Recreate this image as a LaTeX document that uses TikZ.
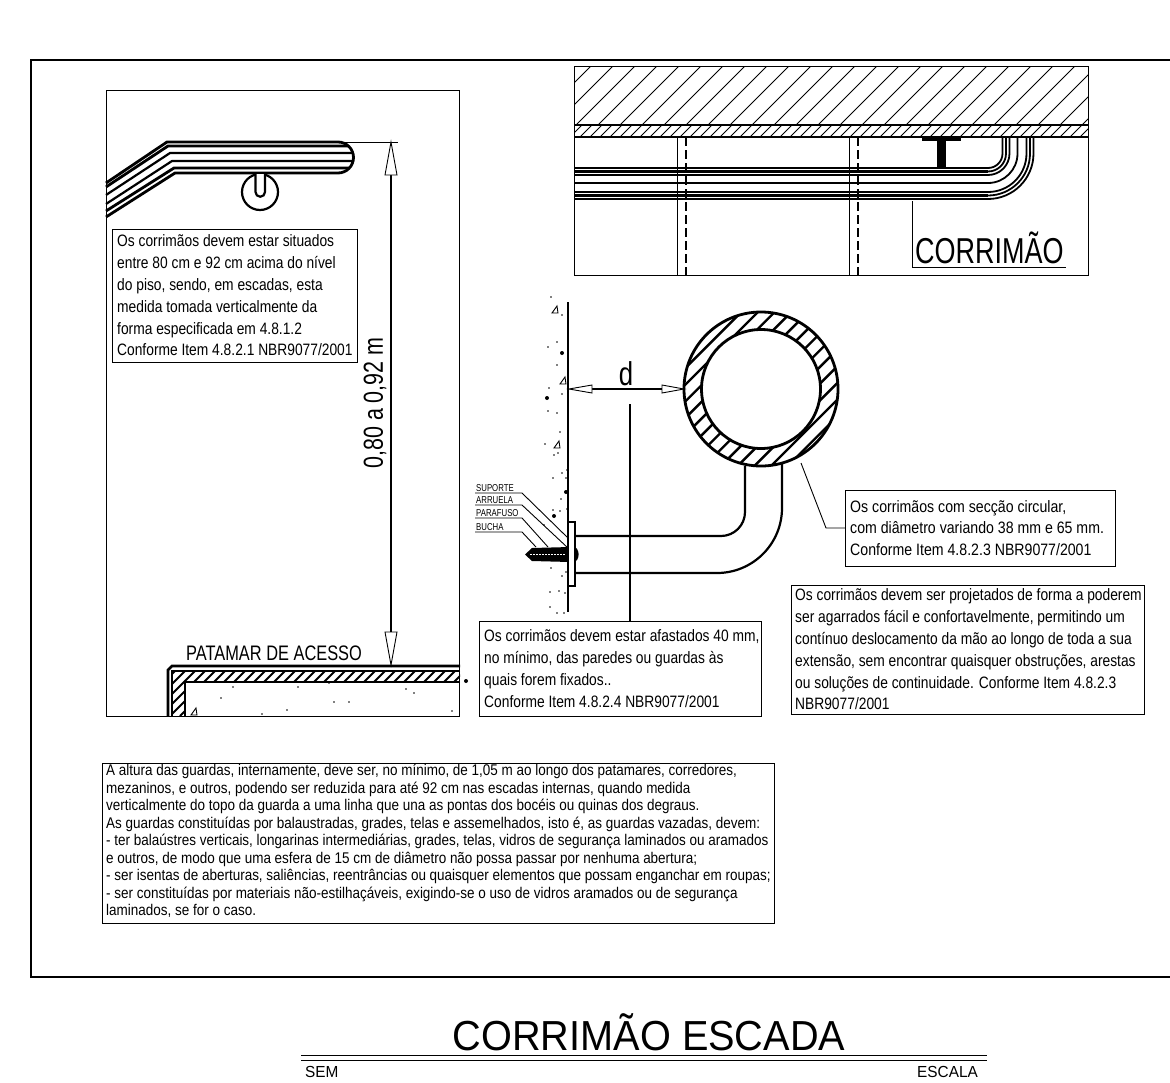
\documentclass[tikz,border=0pt]{standalone}
\usepackage{fontspec}
\setmainfont{Liberation Sans}
\newfontfamily\nar[FakeStretch=0.78]{Liberation Sans}
\newfontfamily\narb[FakeStretch=0.836]{Liberation Sans}
\newfontfamily\narc[FakeStretch=0.75]{Liberation Sans}
\newfontfamily\titl[FakeStretch=0.945]{Liberation Sans}
\newfontfamily\smallt[FakeStretch=0.96]{Liberation Sans}
\tikzset{
  thinl/.style={line width=0.9pt},
  med/.style={line width=1.2pt},
  thick2/.style={line width=2.2pt},
  heavy/.style={line width=2.8pt},
  framebox/.style={draw,line width=1pt,anchor=north west,inner sep=0pt,outer sep=0pt},
  boxtext/.style={anchor=west,align=left,inner sep=0pt,font=\narb\fontsize{16.5}{21.8}\selectfont},
  smalllabel/.style={anchor=base west,inner sep=0pt,font=\nar\fontsize{10}{12}\selectfont},
  headarrow/.style={draw,line width=0.9pt,fill=white},
}
\newcommand{\speck}[2]{\fill (#1,#2) circle[radius=0.8pt];}
\newcommand{\blob}[2]{\fill (#1,#2) circle[radius=2pt];}
\newcommand{\tri}[2]{\draw[line width=0.9pt] (#1-3,#2+3) -- (#1+3,#2+3) -- (#1+2,#2-4) -- cycle;}
\begin{document}
\begin{tikzpicture}[x=1pt,y=-1pt]
\useasboundingbox (0,0) rectangle (1170,1082);
\begin{scope}
\clip (0,0) rectangle (1170,1082);
% outer frame
\draw[heavy] (1175,60) -- (31,60) -- (31,977) -- (1175,977);

% ---------- left panel ----------
\node[framebox,minimum width=353pt,minimum height=626pt] (leftp) at (106,90) {};
% handrail
\draw[heavy] (106,183) -- (167,142) -- (338,142) arc[start angle=90,end angle=-90,radius=15.5pt] -- (175,173) -- (106,217);
\draw[heavy] (106,187) -- (168,146) -- (348.4,146);
\draw[thick2] (106,195) -- (170,153) -- (352.8,153);
\draw[thick2] (106,204) -- (172,161) -- (353,161);
\draw[heavy] (106,211) -- (174,168) -- (349.4,168);
% bracket
\draw[thick2] (260,192) circle[radius=18pt];
\draw[thick2,fill=white] (255.5,174) -- (255.5,192) arc[start angle=180,end angle=360,radius=4.75pt] -- (265,174);
% dimension
\coordinate (dimA) at (391,142);
\coordinate (dimB) at (391,665);
\draw[thinl] (338,142) -- (398,142);
\draw[med] (391,175) -- (391,632);
\draw[headarrow] (dimA) -- ++(-6,33) -- ++(12,0) -- cycle;
\draw[headarrow] (dimB) -- ++(-6,-33) -- ++(12,0) -- cycle;
\node[rotate=90,inner sep=0pt,font=\nar\fontsize{27.5}{30}\selectfont] (dimt) at (375,403) {0,80 a 0,92 m};
% text box
\node[framebox,minimum width=245pt,minimum height=133pt] (b1) at (112,229) {};
\node[boxtext] (t1) at ([xshift=5pt]b1.west) {Os corrimãos devem estar situados\\entre 80 cm e 92 cm acima do nível\\do piso, sendo, em escadas, esta\\medida tomada verticalmente da\\forma especificada em 4.8.1.2\\Conforme Item 4.8.2.1 NBR9077/2001};
% patamar
\node[anchor=base west,inner sep=0pt,font=\nar\fontsize{21}{24}\selectfont] (pat) at (186,660) {PATAMAR DE ACESSO};
\begin{scope}
\clip (172,671) rectangle (460,682) (172,671) rectangle (185,716);
\foreach \x in {130,140,...,470} \draw[line width=1.8pt] (\x,716) -- (\x+45,671);
\end{scope}
\draw[heavy] (460,666) -- (172,666) -- (168,670) -- (168,716);
\draw[thick2] (460,671) -- (172,671) -- (172,716);
\draw[heavy] (460,682) -- (185,682) -- (185,716);
\foreach \p/\q in {233/687,298/687,329/683,406/689,414/693,221/698,334/702,349/702,287/710,452/711,262/714} {\speck{\p}{\q}}
\blob{466}{681}
\tri{194}{712}

% ---------- top right panel ----------
\begin{scope}
\clip (574,66) rectangle (1088,125);
\foreach \x in {510,532,...,1100} \draw[line width=1pt] (\x,125) -- (\x+59,66);
\end{scope}
\begin{scope}
\clip (574,125) rectangle (1088,137);
\foreach \x in {560,570,...,1090} \draw[line width=1pt] (\x,137) -- (\x+12,125);
\end{scope}
\node[framebox,minimum width=514pt,minimum height=209pt] (topp) at (574,66) {};
\draw[med] (574,125) -- (1088,125);
\draw[med] (574,137) -- (1088,137);
% posts
\draw[thinl] (677,137) -- (677,275);
\draw[thinl] (849,137) -- (849,275);
\draw[med,dash pattern=on 9pt off 4pt] (686,137) -- (686,275);
\draw[med,dash pattern=on 9pt off 4pt] (858,137) -- (858,275);
% rail
\foreach \y in {168,171.5,175,183,192,195.5,199} {
  \pgfmathsetmacro\r{\y-153.5}
  \draw[line width=2.8pt] (574,\y) -- (988,\y);
  \draw[line width=1.8pt] (988,\y) arc[start angle=270,end angle=360,radius=\r pt] -- (988+\r,137);
}
% T bracket
\fill (922,137) rectangle (961,141);
\fill (937,140) rectangle (946,168);
% leader and title
\node[anchor=base west,inner sep=0pt,font=\narc\fontsize{36}{40}\selectfont] (corr) at (915,263) {CORRIMÃO};
\draw[thinl] (912,201) -- (912,267) -- (1066,267);

% ---------- wall section ----------
\draw[med] (568,302) -- (568,612);
\foreach \p/\q in {551/297,562/315,557/342,548/347,557/365,549/388,562/394,548/411,557/413,560/432,545/444,558/453,554/455,567/470,562/473,553/478,566/478,561/499,567/509,553/510,560/511,544/525,551/568,566/572,562/576,550/592,559/591,565/593,550/607,557/613,564/613} {\speck{\p}{\q}}
\blob{562}{353}\blob{547}{398}\blob{566}{492}\blob{554}{516}
\tri{555}{310}\tri{563}{381}\tri{557}{445}
% d dimension
\coordinate (dW) at (569,389);
\coordinate (dR) at (684,389);
\draw[med] (592,389) -- (662,389);
\draw[headarrow] (dW) -- ++(23,-4) -- ++(0,8) -- cycle;
\draw[headarrow] (dR) -- ++(-22,-4) -- ++(0,8) -- cycle;
\node[anchor=base,inner sep=0pt,font=\nar\fontsize{33}{36}\selectfont] (dlab) at (626,385) {d};
% ring
\begin{scope}
\clip (761,389) circle[radius=77pt];
\foreach \c in {0,1,...,12} \draw[line width=2.4pt] (1053.3+\c*16.7-300,300) -- (1053.3+\c*16.7-500,500);
\end{scope}
\draw[heavy,fill=white] (761,389) circle[radius=59.5pt];
\draw[heavy] (761,389) circle[radius=77pt];
% tube
\draw[thick2] (745,466) -- (745,512) arc[start angle=0,end angle=-90,radius=24pt] -- (575,536);
\draw[thick2] (782,463) -- (782,508) arc[start angle=0,end angle=-90,radius=65pt] -- (575,573);
% screw
\fill (525,554.5) -- (532,548) -- (570,547) -- (570,562) -- (532,561) -- cycle;
\fill (573,546) .. controls (580,548) and (581,560) .. (573,563) -- cycle;
\draw[white,line width=1pt,dash pattern=on 1.5pt off 1.5pt] (530,554.5) -- (566,554.5);
\draw[line width=2pt,fill=white] (568,522) rectangle (575,586);
% labels
\node[smalllabel] (lsup) at (476,491) {SUPORTE};
\node[smalllabel] (larr) at (476,503) {ARRUELA};
\node[smalllabel] (lpar) at (476,516) {PARAFUSO};
\node[smalllabel] (lbuc) at (476,530) {BUCHA};
\draw[thinl] (475,493) -- (522,493) -- (568,538);
\draw[thinl] (475,505) -- (522,505) -- (568,548);
\draw[thinl] (475,518) -- (522,518) -- (548,547);
\draw[thinl] (475,532) -- (522,532) -- (536,547);
% middle box
\node[framebox,minimum width=282pt,minimum height=95pt] (b2) at (479,621) {};
\node[boxtext] (t2) at ([xshift=5pt]b2.west) {Os corrimãos devem estar afastados 40 mm,\\no mínimo, das paredes ou guardas às\\quais forem fixados..\\Conforme Item 4.8.2.4 NBR9077/2001};
\coordinate (dleader) at (630,404);
\draw[med] (dleader) -- (dleader |- b2.north);
% right boxes
\node[framebox,minimum width=270pt,minimum height=76pt] (b3) at (845,490) {};
\node[boxtext,xscale=1.025] (t3) at ([xshift=5pt]b3.west) {Os corrimãos com secção circular,\\com diâmetro variando 38 mm e 65 mm.\\Conforme Item 4.8.2.3 NBR9077/2001};
\coordinate (ringpt) at (801,463);
\draw[thinl] (ringpt) -- (826,528) -- (845,528);
\node[framebox,minimum width=353pt,minimum height=129pt] (b4) at (791,585) {};
\node[boxtext] (t4) at ([xshift=4pt]b4.west) {Os corrimãos devem ser projetados de forma a poderem\\ser agarrados fácil e confortavelmente, permitindo um\\contínuo deslocamento da mão ao longo de toda a sua\\extensão, sem encontrar quaisquer obstruções, arestas\\ou soluções de continuidade. Conforme Item 4.8.2.3\\NBR9077/2001};
% bottom box
\node[framebox,minimum width=672pt,minimum height=160pt] (b5) at (102,763) {};
\node[boxtext,font=\narb\fontsize{15.5}{17.5}\selectfont,xscale=1.04] (t5) at ([xshift=4pt,yshift=2pt]b5.west) {A altura das guardas, internamente, deve ser, no mínimo, de 1,05 m ao longo dos patamares, corredores,\\mezaninos, e outros, podendo ser reduzida para até 92 cm nas escadas internas, quando medida\\verticalmente do topo da guarda a uma linha que una as pontas dos bocéis ou quinas dos degraus.\\As guardas constituídas por balaustradas, grades, telas e assemelhados, isto é, as guardas vazadas, devem:\\- ter balaústres verticais, longarinas intermediárias, grades, telas, vidros de segurança laminados ou aramados\\e outros, de modo que uma esfera de 15 cm de diâmetro não possa passar por nenhuma abertura;\\- ser isentas de aberturas, saliências, reentrâncias ou quaisquer elementos que possam enganchar  em roupas;\\- ser constituídas por materiais não-estilhaçáveis, exigindo-se o uso de vidros aramados ou de segurança\\laminados, se for o caso.};

% ---------- title ----------
\node[anchor=base,inner sep=0pt,font=\titl\fontsize{42}{46}\selectfont] (title) at (649,1050) {CORRIMÃO ESCADA};
\draw[line width=1.8pt] (301,1055.5) -- (987,1055.5);
\draw[line width=1.8pt] (301,1060.5) -- (987,1060.5);
\node[anchor=base west,inner sep=0pt,font=\smallt\fontsize{16}{18}\selectfont] (sem) at (305,1077) {SEM};
\node[anchor=base east,inner sep=0pt,font=\smallt\fontsize{16}{18}\selectfont] (esc) at (978,1077) {ESCALA};
\end{scope}
\end{tikzpicture}
\end{document}
